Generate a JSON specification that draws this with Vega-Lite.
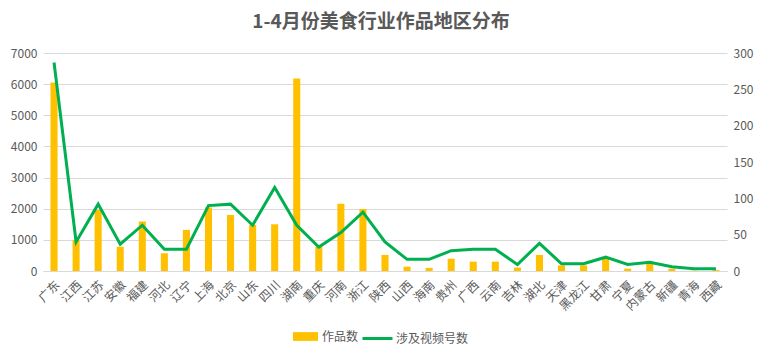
{
  "$schema": "https://vega.github.io/schema/vega-lite/v6.json",
  "autosize": {"type": "none"},
  "width": 684,
  "height": 218,
  "padding": {"left": 43, "top": 53, "right": 35, "bottom": 86},
  "background": "white",
  "title": {
    "text": "1-4月份美食行业作品地区分布",
    "font": "Noto Sans CJK SC",
    "fontSize": 19,
    "fontWeight": "bold",
    "color": "#595959",
    "anchor": "middle",
    "offset": 15,
    "dx": -4
  },
  "config": {
    "view": {"stroke": null},
    "axis": {"labelFont": "Noto Sans CJK SC", "labelColor": "#595959", "labelFontSize": 11, "ticks": false, "title": null},
    "legend": {"labelFont": "Noto Sans CJK SC", "labelColor": "#595959", "labelFontSize": 12}
  },
  "data": {
    "values": [
      {"region": "广东", "works": 6050, "accounts": 287},
      {"region": "江西", "works": 1000, "accounts": 40},
      {"region": "江苏", "works": 1960, "accounts": 92},
      {"region": "安徽", "works": 780, "accounts": 37},
      {"region": "福建", "works": 1590, "accounts": 63},
      {"region": "河北", "works": 570, "accounts": 30},
      {"region": "辽宁", "works": 1320, "accounts": 30},
      {"region": "上海", "works": 2040, "accounts": 90},
      {"region": "北京", "works": 1800, "accounts": 92},
      {"region": "山东", "works": 1480, "accounts": 63},
      {"region": "四川", "works": 1500, "accounts": 115},
      {"region": "湖南", "works": 6180, "accounts": 63},
      {"region": "重庆", "works": 780, "accounts": 33},
      {"region": "河南", "works": 2160, "accounts": 53},
      {"region": "浙江", "works": 1990, "accounts": 81},
      {"region": "陕西", "works": 515, "accounts": 40},
      {"region": "山西", "works": 140, "accounts": 16},
      {"region": "海南", "works": 100, "accounts": 16},
      {"region": "贵州", "works": 395, "accounts": 28},
      {"region": "广西", "works": 300, "accounts": 30},
      {"region": "云南", "works": 300, "accounts": 30},
      {"region": "吉林", "works": 110, "accounts": 9},
      {"region": "湖北", "works": 515, "accounts": 38},
      {"region": "天津", "works": 180, "accounts": 10},
      {"region": "黑龙江", "works": 180, "accounts": 10},
      {"region": "甘肃", "works": 400, "accounts": 19},
      {"region": "宁夏", "works": 75, "accounts": 9},
      {"region": "内蒙古", "works": 225, "accounts": 12},
      {"region": "新疆", "works": 75, "accounts": 6},
      {"region": "青海", "works": 10, "accounts": 3},
      {"region": "西藏", "works": 30, "accounts": 3}
    ]
  },
  "encoding": {
    "x": {
      "field": "region",
      "type": "nominal",
      "sort": null,
      "scale": {"paddingInner": 0, "paddingOuter": 0},
      "axis": {"labelAngle": -45, "domainColor": "#D9D9D9", "labelPadding": 8, "labelFontSize": 12}
    }
  },
  "layer": [
    {
      "mark": {"type": "bar", "width": {"band": 0.32}},
      "encoding": {
        "y": {
          "field": "works",
          "type": "quantitative",
          "scale": {"domain": [0, 7000]},
          "axis": {"values": [0, 1000, 2000, 3000, 4000, 5000, 6000, 7000], "format": "d", "gridColor": "#D9D9D9", "domain": false, "labelPadding": 6, "labelFontSize": 12}
        },
        "fill": {
          "datum": "作品数",
          "scale": {"domain": ["作品数"], "range": ["#FFC000"]},
          "legend": {"title": null, "orient": "none", "legendX": 250, "legendY": 271, "symbolType": "M-1,-0.35H1V0.35H-1Z", "symbolSize": 625, "symbolStrokeWidth": 0, "labelOffset": 4}
        }
      }
    },
    {
      "mark": {"type": "line", "strokeWidth": 3},
      "encoding": {
        "y": {
          "field": "accounts",
          "type": "quantitative",
          "scale": {"domain": [0, 300]},
          "axis": {"orient": "right", "values": [0, 50, 100, 150, 200, 250, 300], "grid": false, "domain": false, "labelPadding": 6, "labelFontSize": 12}
        },
        "stroke": {
          "datum": "涉及视频号数",
          "scale": {"domain": ["涉及视频号数"], "range": ["#00B050"]},
          "legend": {"title": null, "orient": "none", "legendX": 318, "legendY": 269, "symbolType": "stroke", "symbolSize": 900, "symbolStrokeWidth": 3, "labelOffset": 2}
        }
      }
    }
  ],
  "resolve": {"scale": {"y": "independent"}}
}
